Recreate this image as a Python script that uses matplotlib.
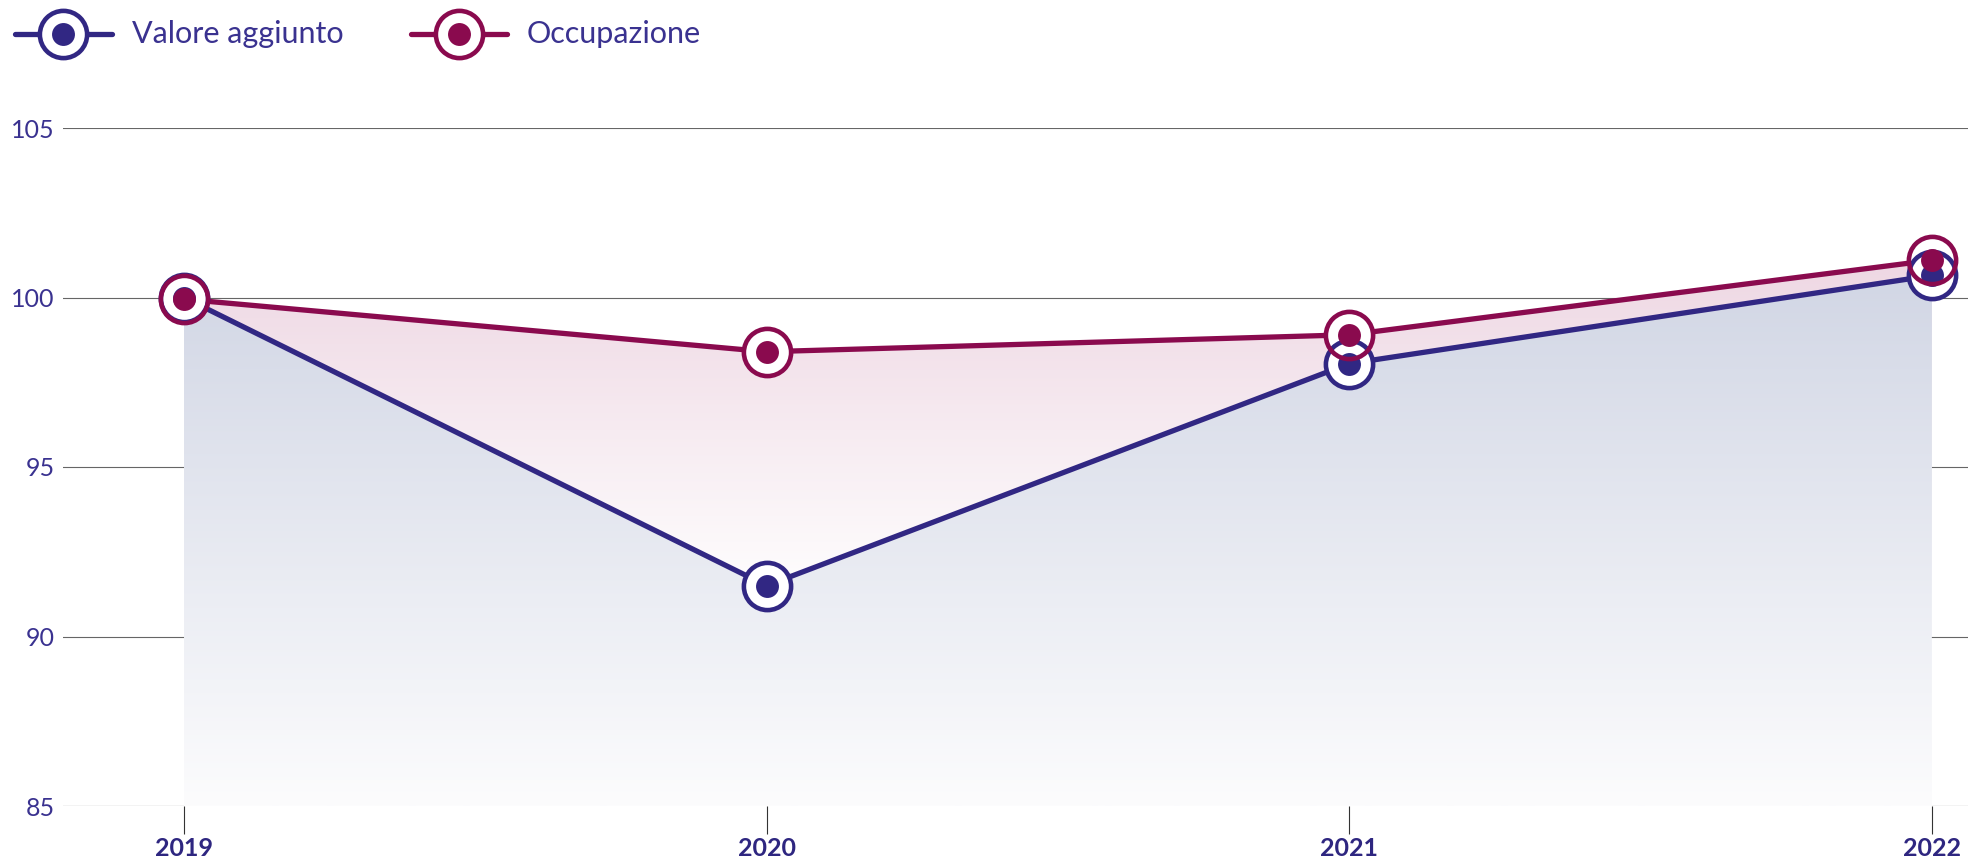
import numpy as np
import matplotlib
matplotlib.use("Agg")
import matplotlib.pyplot as plt
from matplotlib.lines import Line2D
from matplotlib.colors import LinearSegmentedColormap

years = ["2019", "2020", "2021", "2022"]
valore_aggiunto = [100.0, 91.5, 98.05, 100.65]
occupazione = [99.95, 98.4, 98.9, 101.1]
y_ticks = [85, 90, 95, 100, 105]
series_names = ["Valore aggiunto", "Occupazione"]

C_VAL = "#312783"
C_OCC = "#8a0a4e"
C_TXT = "#3a3290"
C_XTXT = "#2e2680"

plt.rcParams['font.family'] = ['Lato', 'DejaVu Sans']

W, H = 1988, 858
fig = plt.figure(figsize=(W / 100, H / 100), dpi=100)
ax = fig.add_axes([63 / W, 1 - 806 / H, 1905 / W, (806 - 128) / H])

x = np.arange(len(years))
ax.set_xlim(-0.2077, 3.062)
ax.set_ylim(85, 105)

# gridlines
for t in y_ticks:
    ax.axhline(t, color="#333333" if t == 85 else "#666666", lw=0.8, zorder=1)

def gradient_fill(yvals, c_top, c_bot, y_top, y_bot, z):
    poly = ax.fill_between(x, yvals, 85, facecolor="none", edgecolor="none")
    cmap = LinearSegmentedColormap.from_list("g", [c_bot, c_top])
    grad = np.linspace(0, 1, 256).reshape(-1, 1)
    im = ax.imshow(grad, cmap=cmap, origin="lower", aspect="auto",
                   extent=[x[0], x[-1], y_bot, y_top], zorder=z,
                   interpolation="bilinear")
    im.set_clip_path(poly.get_paths()[0], transform=ax.transData)

gradient_fill(occupazione, "#eed7e3", "#ffffff", 101.2, 91.0, 2)
gradient_fill(valore_aggiunto, "#d0d5e4", "#fcfcfd", 101.2, 85.0, 3)
ax.set_xlim(-0.2077, 3.062)
ax.set_ylim(85, 105)

lw = 3.8
ring_ms = 34
ring_mew = 3.3
dot_ms = 16.5

ax.plot(x, valore_aggiunto, color=C_VAL, lw=lw, zorder=5, solid_capstyle="round", clip_on=False)
ax.plot(x, occupazione, color=C_OCC, lw=lw, zorder=6, solid_capstyle="round", clip_on=False)
# white faces
ax.plot(x, valore_aggiunto, ls="none", marker="o", ms=ring_ms, mfc="white", mec="none", zorder=7, clip_on=False)
ax.plot(x, occupazione, ls="none", marker="o", ms=ring_ms, mfc="white", mec="none", zorder=7, clip_on=False)
# rings and dots
ax.plot(x, valore_aggiunto, ls="none", marker="o", ms=ring_ms, mfc="none", mec=C_VAL, mew=ring_mew, zorder=8, clip_on=False)
ax.plot(x, valore_aggiunto, ls="none", marker="o", ms=dot_ms, mfc=C_VAL, mec="none", zorder=8, clip_on=False)
ax.plot(x, occupazione, ls="none", marker="o", ms=ring_ms, mfc="none", mec=C_OCC, mew=ring_mew, zorder=9, clip_on=False)
ax.plot(x, occupazione, ls="none", marker="o", ms=dot_ms, mfc=C_OCC, mec="none", zorder=9, clip_on=False)

for s in ax.spines.values():
    s.set_visible(False)

ax.set_yticks(y_ticks)
ax.set_yticklabels([str(t) for t in y_ticks], fontsize=18, color=C_TXT, fontweight="normal")
ax.tick_params(axis="y", length=0, pad=6)
ax.set_xticks(x)
ax.set_xticklabels(years, fontsize=18, color=C_XTXT, fontweight="bold")
ax.tick_params(axis="x", length=20, width=0.8, color="#333333", pad=2)

# legend
ly = 1 - 34 / H
legend_items = [(series_names[0], C_VAL, 15, 112, 63, 132),
                (series_names[1], C_OCC, 411, 507, 459, 527)]
for name, c, x0, x1, xm, xt in legend_items:
    fig.add_artist(Line2D([x0 / W, x1 / W], [ly, ly], transform=fig.transFigure,
                          color=c, lw=lw, solid_capstyle="round"))
    fig.add_artist(Line2D([xm / W], [ly], transform=fig.transFigure, ls="none",
                          marker="o", ms=ring_ms, mfc="white", mec=c, mew=ring_mew))
    fig.add_artist(Line2D([xm / W], [ly], transform=fig.transFigure, ls="none",
                          marker="o", ms=dot_ms, mfc=c, mec="none"))
    fig.text(xt / W, ly, name, fontsize=22, color=C_TXT, fontweight="normal",
             va="center", ha="left")

fig.savefig("out.png", dpi=100, facecolor="white")
